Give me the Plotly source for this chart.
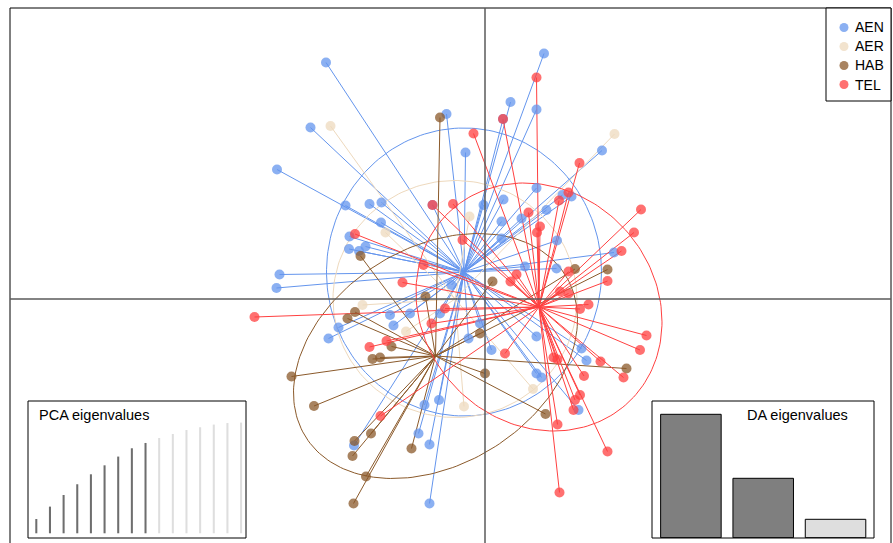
import numpy as np
import plotly.graph_objects as go

# ---- Discriminant scores (LD1, LD2) per population ----
groups = ["AEN", "AER", "HAB", "TEL"]
colors = ["#6495ED", "#EED9BD", "#8B5A2B", "#FF4040"]

aen_x = [-3.18, -3.49, -4.16, -0.77, -0.39, 1.18, 0.51, 1.03, 0.36, 2.34, 1.03, 1.73, 1.55, 0.37,
         1.23, 0.73, 1.44, 2.58, 1.43, 0.80, -0.03, 0.33, 0.33, -2.79, -2.31, -2.07, -2.08, -2.71,
         -2.72, -2.39, -2.52, -4.11, -4.17, -1.90, -2.93, -3.13, -1.83, -0.90, -1.50, -0.10, -0.33,
         0.13, 1.03, 1.03, 1.13, 2.03, 1.93, 1.87, -1.21, -0.92, -1.33, -1.11, -2.62, -1.11, -1.05,
         -0.67]
aen_y = [4.73, 3.43, 2.59, 3.70, 2.93, 4.91, 3.94, 3.79, 3.60, 2.97, 2.22, 2.05, 2.08, 1.99,
         1.78, 1.61, 1.17, 0.93, 0.61, 0.65, 1.88, 1.55, 1.21, 1.87, 1.90, 1.93, 1.53, 1.25,
         1.00, 1.05, 0.96, 0.49, 0.22, -0.32, -0.57, -0.79, -0.53, -0.29, -0.29, -0.49, -0.79,
         -1.02, -0.75, -1.49, -1.57, -1.23, -0.99, -2.22, -2.12, -2.02, -2.69, -2.91, -2.93, -4.09, 1.88,
         0.28]

aer_x = [-3.09, 2.59, -1.99, -0.31, -2.45, -0.42, 0.96, -1.58]
aer_y = [3.46, 3.30, 1.33, 1.65, -0.12, -2.15, -1.80, -0.65]

hab_x = [-0.90, -2.49, -2.60, -2.75, -1.19, -1.87, -2.25, -2.10, -3.87, -3.42, -2.28, -2.61,
         -2.65, -1.47, -2.38, -2.63, -0.10, 0.00, 0.15, 1.80, 2.45, 2.83, 1.21]
hab_y = [3.63, 0.86, -0.26, -0.39, 0.05, -0.95, -1.20, -1.17, -1.55, -2.14, -2.69, -2.84,
         -3.14, -2.99, -3.55, -4.09, -0.69, -1.49, 0.35, 0.60, 0.59, -1.39, -2.30]

tel_x = [1.03, 0.36, -0.23, 1.89, 1.67, 1.48, 0.87, 1.10, 1.04, -0.64, -1.05, -0.45, -1.23, -1.65,
         3.12, 2.98, 2.73, 1.67, 2.45, 0.63, 0.51, 1.50, 1.67, 2.07, 1.90, 3.23, 3.10, -0.80, -1.07,
         -2.60, -4.61, -2.31, -1.97, -2.09, 0.40, 1.37, 1.45, 2.31, 2.77, 1.98, 1.90, 1.80, 1.77,
         1.45, 2.45, 1.49]
tel_y = [4.43, 3.60, 3.31, 2.72, 2.13, 1.97, 1.73, 1.45, 1.33, 1.90, 1.88, 1.18, 0.68, 0.33,
         1.79, 1.33, 0.96, 0.55, 0.36, 0.49, 0.35, 0.15, 0.11, -0.11, -0.20, -0.73, -1.02, -0.19, -0.49,
         1.30, -0.36, -0.96, -0.84, -2.34, -1.09, -1.17, -1.21, -1.25, -1.57, -1.54, -1.92, -2.02, -2.22,
         -2.51, -3.05, -3.87]

# group centres and inertia ellipse parameters (sd along LD1, sd along LD2, correlation)
centre_x = [-0.42, -0.60, -0.99, 1.08]
centre_y = [0.54, 0.00, -1.14, -0.16]
ell_sx = [2.75, 2.44, 2.84, 2.46]
ell_sy = [2.88, 2.37, 2.45, 2.48]
ell_rho = [0.00, 0.00, 0.30, -0.12]

# inset data
pca_cumvar = [12.9, 24.1, 34.6, 44.3, 53.3, 61.4, 69.3, 76.8, 81.6, 86.1, 89.7, 93.3, 95.8,
              98.2, 99.6, 100.0]
pca_retained = 9
da_eig = [6.17, 2.97, 0.92]
da_retained = 2

pts_x = [aen_x, aer_x, hab_x, tel_x]
pts_y = [aen_y, aer_y, hab_y, tel_y]

FONT = "Liberation Sans, Arial, sans-serif"
fig = go.Figure()

# stars and ellipses
for g, col, xs, ys, cx, cy, sx, sy, r in zip(groups, colors, pts_x, pts_y, centre_x, centre_y,
                                             ell_sx, ell_sy, ell_rho):
    lx, ly = [], []
    for x, y in zip(xs, ys):
        lx += [cx, x, None]
        ly += [cy, y, None]
    fig.add_trace(go.Scatter(x=lx, y=ly, mode="lines", line=dict(color=col, width=1),
                             hoverinfo="skip", showlegend=False))
    t = np.linspace(0, 2 * np.pi, 200)
    ex = cx + sx * np.cos(t)
    ey = cy + sy * (r * np.cos(t) + np.sqrt(1 - r * r) * np.sin(t))
    fig.add_trace(go.Scatter(x=ex, y=ey, mode="lines", line=dict(color=col, width=1),
                             hoverinfo="skip", showlegend=False))

# points
for g, col, xs, ys in zip(groups, colors, pts_x, pts_y):
    fig.add_trace(go.Scatter(x=xs, y=ys, mode="markers", name=g,
                             marker=dict(color=col, size=10, opacity=0.75, line=dict(width=0)),
                             showlegend=False))

# PCA eigenvalue inset
pca_cols = ["#6E6E6E" if i < pca_retained else "#DEDEDE" for i in range(len(pca_cumvar))]
fig.add_trace(go.Bar(x=list(range(1, len(pca_cumvar) + 1)), y=pca_cumvar, width=0.15,
                     marker=dict(color=pca_cols, line=dict(width=0)),
                     xaxis="x2", yaxis="y2", showlegend=False, hoverinfo="skip"))

# DA eigenvalue inset
da_cols = ["#7F7F7F" if i < da_retained else "#DEDEDE" for i in range(len(da_eig))]
fig.add_trace(go.Bar(x=list(range(1, len(da_eig) + 1)), y=da_eig, width=0.837,
                     marker=dict(color=da_cols, line=dict(color="black", width=1)),
                     xaxis="x3", yaxis="y3", showlegend=False, hoverinfo="skip"))

W, H = 893, 543
ML, MR, MT, MB = 10, 2, 8, 0
PW, PH = W - ML - MR, H - MT - MB


def px(x):
    return (x - ML) / PW


def py(y):
    return (H - MB - y) / PH


shapes = [
    # frame
    dict(type="rect", xref="paper", yref="paper", x0=0, x1=1, y0=-0.02, y1=1,
         line=dict(color="black", width=1), layer="above"),
    # axes through the origin
    dict(type="line", xref="x", yref="paper", x0=0, x1=0, y0=0, y1=1,
         line=dict(color="#5A5A5A", width=1.5), layer="above"),
    dict(type="line", xref="paper", yref="y", x0=0, x1=1, y0=0, y1=0,
         line=dict(color="#5A5A5A", width=1.5), layer="above"),
    # inset boxes
    dict(type="rect", xref="paper", yref="paper", x0=px(28), x1=px(246), y0=py(538), y1=py(401),
         line=dict(color="black", width=1), fillcolor="rgba(0,0,0,0)", layer="above"),
    dict(type="rect", xref="paper", yref="paper", x0=px(652), x1=px(874), y0=py(538), y1=py(401),
         line=dict(color="black", width=1), fillcolor="rgba(0,0,0,0)", layer="above"),
    # legend box
    dict(type="rect", xref="paper", yref="paper", x0=px(826), x1=1, y0=py(101), y1=1,
         line=dict(color="black", width=1), fillcolor="white", layer="above"),
]

annotations = [
    dict(text="PCA eigenvalues", xref="paper", yref="paper", x=px(37), y=py(415),
         xanchor="left", yanchor="middle", showarrow=False,
         font=dict(family=FONT, size=14.5, color="black")),
    dict(text="DA eigenvalues", xref="paper", yref="paper", x=px(850), y=py(415),
         xanchor="right", yanchor="middle", showarrow=False,
         font=dict(family=FONT, size=14.5, color="black")),
]

# legend entries
for i, (g, col) in enumerate(zip(groups, colors)):
    yc = 27.5 + 19 * i
    shapes.append(dict(type="circle", xref="paper", yref="paper",
                       x0=px(844 - 4.5), x1=px(844 + 4.5), y0=py(yc + 4.5), y1=py(yc - 4.5),
                       fillcolor=col, opacity=0.75, line=dict(width=0), layer="above"))
    annotations.append(dict(text=g, xref="paper", yref="paper", x=px(853), y=py(yc),
                            xanchor="left", yanchor="middle", showarrow=False,
                            font=dict(family=FONT, size=14, color="black")))

hidden = dict(visible=False, showgrid=False, zeroline=False, fixedrange=True)
fig.update_layout(
    width=W, height=H,
    margin=dict(l=ML, r=MR, t=MT, b=MB),
    paper_bgcolor="white", plot_bgcolor="white",
    showlegend=False,
    xaxis=dict(range=[-9.5, 8.12], **hidden),
    yaxis=dict(range=[-4.88, 5.82], **hidden),
    xaxis2=dict(domain=[px(28), px(246)], anchor="y2", range=[0.392, 16.36], **hidden),
    yaxis2=dict(domain=[py(538), py(401)], anchor="x2", range=[-4.25, 119.5], **hidden),
    xaxis3=dict(domain=[px(652), px(874)], anchor="y3", range=[0.462, 3.532], **hidden),
    yaxis3=dict(domain=[py(538), py(401)], anchor="x3", range=[-0.015, 6.835], **hidden),
    shapes=shapes,
    annotations=annotations,
    font=dict(family=FONT),
)

fig.write_html("out.html")
